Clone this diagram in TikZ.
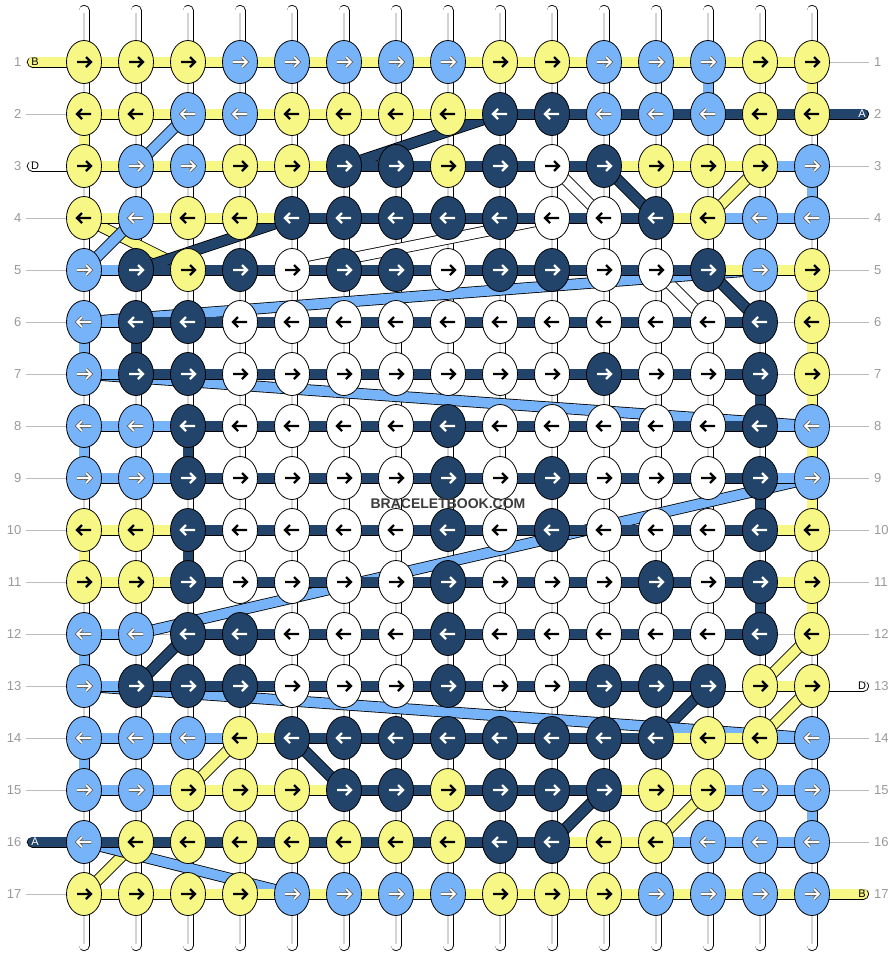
\documentclass[tikz,border=0pt]{standalone}
\usepackage{fontspec}
\setmainfont{Liberation Sans}
\usetikzlibrary{shapes.geometric}
\definecolor{kY}{HTML}{F7F786}
\definecolor{kB}{HTML}{76B3F9}
\definecolor{kD}{HTML}{22436A}
\definecolor{kW}{HTML}{FFFFFF}
\definecolor{guide}{HTML}{BBBBBB}
\definecolor{numgray}{HTML}{9A9A9A}
\definecolor{strip}{HTML}{D4D4D4}
\definecolor{wmgray}{HTML}{3C3C3C}
\tikzset{
  knot/.style={ellipse, draw=black, line width=0.8pt, minimum width=35pt, minimum height=43pt, inner sep=0pt},
  arrY/.style={draw=black, line width=2.4pt},
  arrW/.style={draw=black, line width=2.4pt},
  arrD/.style={draw=white, line width=2.4pt},
  arrB/.style={draw=white, line width=1.7pt, preaction={draw=black!60, line width=3.5pt}},
  rownum/.style={text=numgray, font=\fontsize{13}{15}\selectfont, inner sep=0pt},
  tablabel/.style={font=\fontsize{11}{12}\selectfont, inner sep=0pt},
  wmark/.style={font=\bfseries\fontsize{14}{16}\selectfont, inner sep=0pt},
}
\begin{document}
\begin{tikzpicture}[x=1pt,y=-1pt]
\useasboundingbox (0,0) rectangle (896,956);
\fill[white] (0,0) rectangle (896,956);
% coordinates and guide lines
\foreach \r in {1,...,17}{
  \foreach \c in {1,...,15}{
    \coordinate (p-\r-\c) at ({84+52*(\c-1)},{62+52*(\r-1)});
  }
  \coordinate (gl-\r) at (26,{62+52*(\r-1)});
  \coordinate (gr-\r) at (869,{62+52*(\r-1)});
  \draw[guide, line width=1pt] (gl-\r) -- (gr-\r);
}
% vertical base strings
\foreach \c in {1,...,15}{
  \coordinate (st-\c) at ({84+52*(\c-1)},10.5);
  \coordinate (sb-\c) at ({84+52*(\c-1)},945.5);
  \draw[black, line width=11pt, line cap=round] (st-\c) -- (sb-\c);
  \draw[white, line width=9.4pt, line cap=round] (st-\c) -- (sb-\c);
  \draw[strip, line width=2.6pt] ([yshift=-2pt]st-\c) -- ([yshift=2pt]sb-\c);
}
% diagonal thread bands
\foreach \ca/\ra/\cb/\rb/\k in {3/2/2/3/B, 9/2/6/3/D, 10/3/11/4/W, 11/3/12/4/D, 14/3/13/4/Y,
  1/4/3/5/Y, 2/4/1/5/B, 5/4/2/5/D, 10/4/5/5/W, 12/5/13/6/W, 13/5/14/6/D, 14/5/1/6/B,
  1/7/15/8/B, 15/9/2/12/B, 3/12/2/13/D, 15/12/14/13/Y, 13/13/12/14/D, 15/13/14/14/Y,
  1/13/15/14/B, 4/14/3/15/Y, 5/14/6/15/D, 13/15/12/16/Y, 11/15/10/16/D, 2/16/1/17/Y, 1/16/5/17/B}{
  \draw[black, line width=11.4pt] (p-\ra-\ca) -- (p-\rb-\cb);
  \draw[k\k, line width=9.8pt] (p-\ra-\ca) -- (p-\rb-\cb);
}
% horizontal segments
\foreach \r/\ss in {
 1/{Y,Y,Y,Y,Y,Y,Y,Y,Y,Y,Y,Y,Y,Y},
 2/{Y,Y,Y,Y,Y,Y,Y,Y,D,D,D,D,D,D},
 3/{Y,Y,Y,Y,Y,D,D,D,D,D,Y,Y,Y,B},
 4/{Y,Y,Y,Y,D,D,D,D,D,D,D,Y,B,B},
 5/{B,D,D,D,D,D,D,D,D,D,D,D,Y,Y},
 6/{B,D,D,D,D,D,D,D,D,D,D,D,D,N},
 7/{B,D,D,D,D,D,D,D,D,D,D,D,D,N},
 8/{B,B,D,D,D,D,D,D,D,D,D,D,D,B},
 9/{B,B,D,D,D,D,D,D,D,D,D,D,D,B},
 10/{Y,Y,D,D,D,D,D,D,D,D,D,D,D,Y},
 11/{Y,Y,D,D,D,D,D,D,D,D,D,D,D,Y},
 12/{B,N,D,D,D,D,D,D,D,D,D,D,D,N},
 13/{B,D,D,D,D,D,D,D,D,D,D,D,W,Y},
 14/{B,B,B,Y,D,D,D,D,D,D,D,Y,Y,B},
 15/{B,B,Y,Y,Y,D,D,D,D,D,Y,Y,B,B},
 16/{D,D,D,D,D,D,D,D,D,Y,Y,B,B,B},
 17/{Y,Y,Y,Y,Y,Y,Y,Y,Y,Y,Y,Y,Y,Y}}{
  \foreach \s [count=\c] in \ss {
    \pgfmathtruncatemacro\cn{\c+1}
    \if N\s\else
      \draw[black, line width=11pt] (p-\r-\c) -- (p-\r-\cn);
      \draw[k\s, line width=9.4pt] (p-\r-\c) -- (p-\r-\cn);
    \fi
  }
}
% vertical coloured segments
\foreach \c/\r/\k in {15/1/Y, 13/1/B, 1/2/Y, 15/3/B, 15/5/Y, 15/6/Y, 2/6/D, 1/6/B, 15/7/Y, 14/7/D,
  1/8/B, 3/8/D, 15/8/Y, 15/9/Y, 14/9/D, 1/10/Y, 3/10/D, 15/11/Y, 14/11/D, 1/12/B, 1/14/B, 15/15/B}{
  \pgfmathtruncatemacro\rn{\r+1}
  \draw[black, line width=11pt] (p-\r-\c) -- (p-\rn-\c);
  \draw[k\k, line width=9.4pt] (p-\r-\c) -- (p-\rn-\c);
}
% end tabs
\coordinate (tl-1) at (32.5,62);
\coordinate (tl-3) at (32.5,166);
\coordinate (tl-16) at (32.5,842);
\coordinate (tr-2) at (863.5,114);
\coordinate (tr-13) at (863.5,686);
\coordinate (tr-17) at (863.5,894);
\foreach \t/\q/\k in {tl-1/p-1-1/Y, tl-3/p-3-1/W, tl-16/p-16-1/D, tr-2/p-2-15/D, tr-13/p-13-15/W, tr-17/p-17-15/Y}{
  \draw[black, line width=11pt, line cap=round] (\t) -- (\q);
  \draw[k\k, line width=9.4pt, line cap=round] (\t) -- (\q);
}
% knots
\foreach \r/\ks in {
 1/{Y,Y,Y,B,B,B,B,B,Y,Y,B,B,B,Y,Y},
 2/{Y,Y,B,B,Y,Y,Y,Y,D,D,B,B,B,Y,Y},
 3/{Y,B,B,Y,Y,D,D,Y,D,W,D,Y,Y,Y,B},
 4/{Y,B,Y,Y,D,D,D,D,D,W,W,D,Y,B,B},
 5/{B,D,Y,D,W,D,D,W,D,D,W,W,D,B,Y},
 6/{B,D,D,W,W,W,W,W,W,W,W,W,W,D,Y},
 7/{B,D,D,W,W,W,W,W,W,W,D,W,W,D,Y},
 8/{B,B,D,W,W,W,W,D,W,W,W,W,W,D,B},
 9/{B,B,D,W,W,W,W,D,W,D,W,W,W,D,B},
 10/{Y,Y,D,W,W,W,W,D,W,D,W,W,W,D,Y},
 11/{Y,Y,D,W,W,W,W,D,W,W,W,D,W,D,Y},
 12/{B,B,D,D,W,W,W,D,W,W,W,W,W,D,Y},
 13/{B,D,D,D,W,W,W,D,W,W,D,D,D,Y,Y},
 14/{B,B,B,Y,D,D,D,D,D,D,D,D,Y,Y,B},
 15/{B,B,Y,Y,Y,D,D,Y,D,D,D,Y,Y,B,B},
 16/{B,Y,Y,Y,Y,Y,Y,Y,D,D,Y,Y,B,B,B},
 17/{Y,Y,Y,Y,B,B,B,B,Y,Y,Y,B,B,B,B}}{
  \pgfmathsetmacro\dd{ifthenelse(mod(\r,2)==1,1,-1)}
  \foreach \k [count=\c] in \ks {
    \node[knot, fill=k\k] (n-\r-\c) at (p-\r-\c) {};
    \draw[arr\k, shift={(p-\r-\c)}, xscale=\dd] (-7,0) -- (7,0) (2,-5) -- (7,0) -- (2,5);
  }
}
% tab letters
\node[tablabel] (lab-1) at (35,62) {B};
\node[tablabel] (lab-3) at (35,166) {D};
\node[tablabel, text=white] (lab-16) at (35,842) {A};
\node[tablabel, text=white] (lab-2) at (862,114) {A};
\node[tablabel] (lab-13) at (862,686) {D};
\node[tablabel] (lab-17) at (862,894) {B};
% row numbers
\foreach \r in {1,...,17}{
  \node[rownum, anchor=east] (nl-\r) at (21.5,{62+52*(\r-1)}) {\r};
  \node[rownum, anchor=west] (nr-\r) at (874,{62+52*(\r-1)}) {\r};
}
% watermark
\node[wmark, text=wmgray] (wm) at (448,504) {BRACELETBOOK.COM};
\end{tikzpicture}
\end{document}
